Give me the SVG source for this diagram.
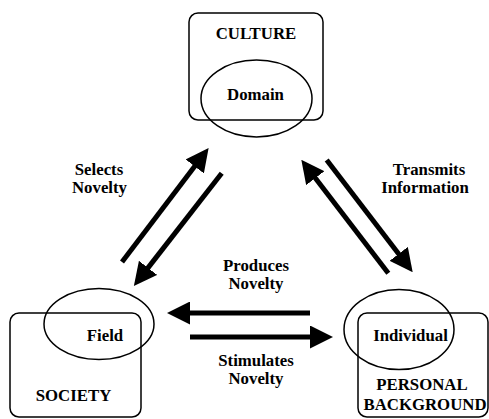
<svg xmlns="http://www.w3.org/2000/svg" width="489" height="419" viewBox="0 0 489 419">
<defs>
<style>
.box{fill:none;stroke:#000;stroke-width:1.5}
.ell{fill:none;stroke:#000;stroke-width:1.5}
.arr{stroke:#000;stroke-width:5;fill:none;marker-end:url(#ah)}
</style>
<marker id="ah" markerUnits="userSpaceOnUse" markerWidth="23" markerHeight="23" viewBox="0 0 23 23" refX="1" refY="11.5" orient="auto">
<path d="M0,0 L23,11.5 L0,23 z" fill="#000"/>
</marker>
</defs>
<rect width="489" height="419" fill="#fff"/>
<g font-family="Liberation Serif, 'Times New Roman', serif" font-weight="bold" font-size="16.8" text-anchor="middle" fill="#000">
<g id="culture">
<rect class="box" x="189" y="13" width="134" height="107" rx="9"/>
<text x="256" y="39">CULTURE</text>
</g>
<g id="domain">
<ellipse class="ell" cx="256.5" cy="98.5" rx="55.5" ry="38.5"/>
<text x="255.5" y="100">Domain</text>
</g>
<g id="society">
<rect class="box" x="10" y="313" width="131" height="104" rx="9"/>
<text x="73.5" y="401">SOCIETY</text>
</g>
<g id="field">
<ellipse class="ell" cx="99" cy="324" rx="55" ry="35.5"/>
<text x="105" y="341">Field</text>
</g>
<g id="personal-background">
<rect class="box" x="358" y="313" width="130" height="104" rx="9"/>
<text x="422" y="390">PERSONAL</text>
<text x="425" y="410">BACKGROUND</text>
</g>
<g id="individual">
<ellipse class="ell" cx="399" cy="329.5" rx="55" ry="40"/>
<text x="410.5" y="341">Individual</text>
</g>
<g id="connectors">
<line class="arr" x1="122" y1="262" x2="195.3" y2="165.6"/>
<line class="arr" x1="221.7" y1="173.3" x2="147.4" y2="268.6"/>
<line class="arr" x1="388.3" y1="273.3" x2="314.7" y2="177.3"/>
<line class="arr" x1="326.7" y1="160" x2="399.3" y2="254.7"/>
<line class="arr" x1="310" y1="313" x2="189" y2="313"/>
<line class="arr" x1="190" y1="337" x2="311" y2="337"/>
</g>
<g id="labels">
<text x="99" y="175">Selects</text>
<text x="99.5" y="193">Novelty</text>
<text x="429" y="175">Transmits</text>
<text x="425" y="193">Information</text>
<text x="256" y="271">Produces</text>
<text x="256" y="289">Novelty</text>
<text x="256" y="366">Stimulates</text>
<text x="256" y="384">Novelty</text>
</g>
</g>
</svg>
